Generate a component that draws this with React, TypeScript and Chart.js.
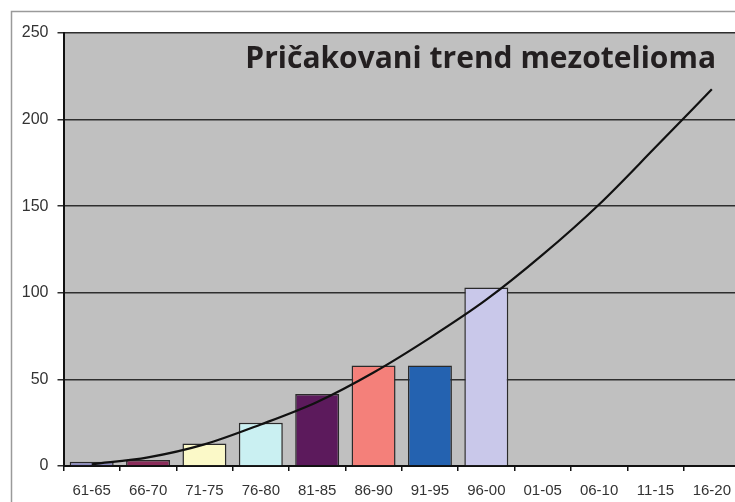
import React, { useEffect, useRef } from "react";
import { Chart, registerables } from "chart.js";

Chart.register(...registerables);

const categories = ["61-65", "66-70", "71-75", "76-80", "81-85", "86-90", "91-95", "96-00", "01-05", "06-10", "11-15", "16-20"];
const cases = [2.5, 3.5, 13, 25, 41.5, 58, 58, 103, null, null, null, null];
const trend = [1, 5, 12.5, 24, 37, 54, 74, 96, 122, 151, 184, 217.5];
const barColors = ["#8c8cc0", "#8b2d5b", "#fbf9c8", "#caf0f2", "#5c1a5c", "#f4807a", "#2462b0", "#c9c8ea", "#c0c0c0", "#c0c0c0", "#c0c0c0", "#c0c0c0"];
const yTicks = [0, 50, 100, 150, 200, 250];
const titleText = "Pričakovani trend mezotelioma";

const decor = {
  id: "decor",
  beforeDraw(chart: any) {
    const { ctx, chartArea } = chart;
    ctx.save();
    ctx.fillStyle = "#ffffff";
    ctx.fillRect(0, 0, chart.width, chart.height);
    ctx.strokeStyle = "#9a9a9a";
    ctx.lineWidth = 1.5;
    ctx.strokeRect(11.5, 11.5, chart.width + 20, chart.height + 20);
    ctx.fillStyle = "#c0c0c0";
    ctx.fillRect(chartArea.left, chartArea.top, chartArea.right - chartArea.left, chartArea.bottom - chartArea.top);
    ctx.restore();
  },
  afterDatasetsDraw(chart: any) {
    const { ctx } = chart;
    ctx.save();
    ctx.font = "bold 30px 'Open Sans'";
    ctx.fillStyle = "#231f20";
    ctx.textAlign = "right";
    ctx.textBaseline = "alphabetic";
    ctx.fillText(titleText, 716, 68);
    ctx.restore();
  },
};

export default function App() {
  const ref = useRef<HTMLCanvasElement>(null);
  useEffect(() => {
    document.body.style.margin = "0";
    document.body.style.overflow = "hidden";
    const canvas = ref.current!;
    const chart = new Chart(canvas, {
      type: "bar",
      data: {
        labels: categories,
        datasets: [
          {
            type: "line",
            data: trend,
            borderColor: "#111111",
            borderWidth: 2.2,
            pointRadius: 0,
            cubicInterpolationMode: "monotone",
            fill: false,
            order: 0,
          } as any,
          {
            type: "bar",
            data: cases,
            backgroundColor: barColors,
            borderColor: "#2a2a2a",
            borderWidth: 1.5,
            categoryPercentage: 1,
            barPercentage: 0.78,
            order: 1,
          },
        ],
      },
      options: {
        responsive: false,
        animation: false,
        layout: { padding: { top: 33, right: 12, left: 0, bottom: 0 } },
        plugins: { legend: { display: false }, tooltip: { enabled: false }, title: { display: false } },
        scales: {
          x: {
            grid: { display: true, drawOnChartArea: false, drawTicks: true, tickLength: 5, color: "#111", lineWidth: 1.5, offset: true },
            border: { display: true, color: "#111", width: 2 },
            ticks: { color: "#333", font: { family: "'Liberation Sans', Arial", size: 15 }, padding: 11, maxRotation: 0, autoSkip: false },
            afterFit(scale: any) { scale.height = 36; },
          },
          y: {
            min: 0,
            max: 250,
            afterBuildTicks(scale: any) { scale.ticks = yTicks.map((v) => ({ value: v })); },
            grid: { color: "#2e2e2e", lineWidth: 1.5, tickLength: 6, drawTicks: true },
            border: { display: true, color: "#111", width: 2 },
            ticks: { color: "#333", font: { family: "'Liberation Sans', Arial", size: 16 }, padding: 9 },
            afterFit(scale: any) { scale.width = 63.5; },
          },
        },
      },
      plugins: [decor],
    });
    return () => chart.destroy();
  }, []);
  return (
    <div style={{ width: 735, height: 502, overflow: "hidden" }}>
      <canvas ref={ref} width={752} height={502} style={{ display: "block" }} />
    </div>
  );
}
